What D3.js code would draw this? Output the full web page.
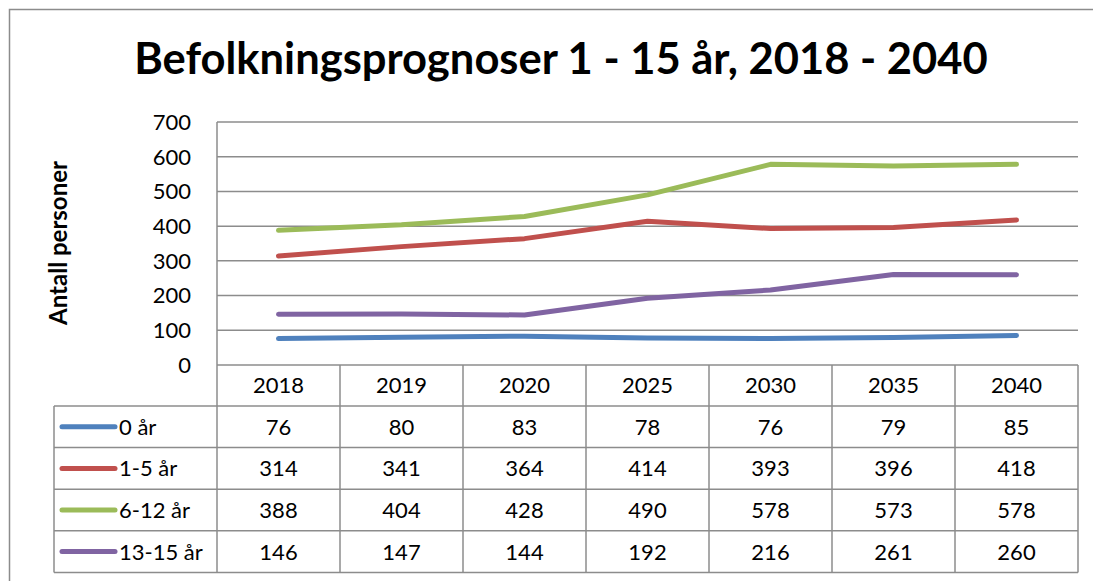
<!DOCTYPE html>
<html lang="no">
<head>
    <meta charset="UTF-8">
    <title>Befolkningsprognoser</title>
    <style>
        body { margin: 0; background: #fff; }
        svg { display: block; font-family: Lato, "Open Sans", sans-serif; }
    </style>
</head>
<body>
<script src="https://d3js.org/d3.v7.min.js"></script>
<div id="chart"></div>
<script>
  // data
  var years = ["2018", "2019", "2020", "2025", "2030", "2035", "2040"]
  var seriesNames = ["0 år", "1-5 år", "6-12 år", "13-15 år"]
  var age0 = [76, 80, 83, 78, 76, 79, 85]
  var age1to5 = [314, 341, 364, 414, 393, 396, 418]
  var age6to12 = [388, 404, 428, 490, 578, 573, 578]
  var age13to15 = [146, 147, 144, 192, 216, 261, 260]
  var yTicks = [0, 100, 200, 300, 400, 500, 600, 700]
  var colors = ["#4f81bd", "#c0504d", "#9bbb59", "#8064a2"]

  var series = [age0, age1to5, age6to12, age13to15]

  var width = 1093, height = 581
  // plot box (window.top is read-only, so no plain "top" here)
  var plotLeft = 217, plotRight = 1078, plotTop = 122, plotBottom = 365
  var headerH = 41, rowH = 41.6, legendLeft = 54
  var gridColor = "#8c8c8c"

  var svg = d3.select("#chart")
    .append("svg")
    .attr("width", width)
    .attr("height", height)

  // outer chart frame (right and bottom edges fall outside the picture)
  svg.append("rect")
    .attr("x", 9.5).attr("y", 9.5)
    .attr("width", 1100).attr("height", 600)
    .attr("fill", "none")
    .attr("stroke", gridColor)
    .attr("stroke-width", 1.5)

  var x = d3.scaleBand().domain(years).range([plotLeft, plotRight])
  var y = d3.scaleLinear().domain([0, 700]).range([plotBottom, plotTop])

  // title
  svg.append("text")
    .attr("x", 561)
    .attr("y", 74)
    .attr("text-anchor", "middle")
    .style("font-size", "43.5px")
    .style("font-weight", "bold")
    .text("Befolkningsprognoser 1 - 15 år, 2018 - 2040")

  // y axis title
  svg.append("text")
    .attr("transform", "translate(67,243) rotate(-90)")
    .attr("text-anchor", "middle")
    .style("font-size", "24px")
    .style("font-weight", "bold")
    .text("Antall personer")

  // gridlines
  svg.append("g").selectAll("line")
    .data(yTicks)
    .join("line")
    .attr("x1", plotLeft).attr("x2", plotRight)
    .attr("y1", function(d){ return y(d) })
    .attr("y2", function(d){ return y(d) })
    .attr("stroke", gridColor)
    .attr("stroke-width", 1.5)

  // y tick labels
  svg.append("g").selectAll("text")
    .data(yTicks)
    .join("text")
    .attr("x", 191)
    .attr("y", function(d){ return y(d) })
    .attr("dy", "0.36em")
    .attr("text-anchor", "end")
    .style("font-size", "22px")
    .text(function(d){ return d })

  // data table: row positions
  var tableTop = plotBottom + headerH
  var tableBottom = tableTop + rowH * series.length
  var rowY = function(i){ return tableTop + rowH * i }

  var grid = svg.append("g")
    .attr("stroke", gridColor)
    .attr("stroke-width", 1.5)

  // plot area left edge running down through the header row
  grid.append("line")
    .attr("x1", plotLeft).attr("x2", plotLeft)
    .attr("y1", plotTop).attr("y2", tableBottom)

  // column dividers of the table
  grid.selectAll(".col")
    .data(years)
    .join("line")
    .attr("class", "col")
    .attr("x1", function(d){ return x(d) + x.bandwidth() })
    .attr("x2", function(d){ return x(d) + x.bandwidth() })
    .attr("y1", plotBottom).attr("y2", tableBottom)

  grid.append("line")
    .attr("x1", legendLeft).attr("x2", legendLeft)
    .attr("y1", tableTop).attr("y2", tableBottom)

  grid.selectAll(".row")
    .data(d3.range(series.length + 1))
    .join("line")
    .attr("class", "row")
    .attr("x1", legendLeft).attr("x2", plotRight)
    .attr("y1", function(i){ return rowY(i) })
    .attr("y2", function(i){ return rowY(i) })

  // header years
  svg.append("g").selectAll("text")
    .data(years)
    .join("text")
    .attr("x", function(d){ return x(d) + x.bandwidth() / 2 })
    .attr("y", plotBottom + headerH / 2)
    .attr("dy", "0.36em")
    .attr("text-anchor", "middle")
    .style("font-size", "22px")
    .text(function(d){ return d })

  // table rows: legend key, name, values
  series.forEach(function(values, i){
    var cy = rowY(i) + rowH / 2
    var row = svg.append("g")

    row.append("line")
      .attr("x1", 62).attr("x2", 115)
      .attr("y1", cy).attr("y2", cy)
      .attr("stroke", colors[i])
      .attr("stroke-width", 5)
      .attr("stroke-linecap", "round")

    row.append("text")
      .attr("x", 119)
      .attr("y", cy)
      .attr("dy", "0.36em")
      .style("font-size", "22px")
      .text(seriesNames[i])

    row.selectAll(".val")
      .data(values)
      .join("text")
      .attr("class", "val")
      .attr("x", function(d, j){ return x(years[j]) + x.bandwidth() / 2 })
      .attr("y", cy)
      .attr("dy", "0.36em")
      .attr("text-anchor", "middle")
      .style("font-size", "22px")
      .text(function(d){ return d })
  })

  // the lines
  var line = d3.line()
    .x(function(d, j){ return x(years[j]) + x.bandwidth() / 2 })
    .y(function(d){ return y(d) })

  svg.append("g").selectAll("path")
    .data(series)
    .join("path")
    .attr("d", line)
    .attr("fill", "none")
    .attr("stroke", function(d, i){ return colors[i] })
    .attr("stroke-width", 5)
    .attr("stroke-linejoin", "round")
    .attr("stroke-linecap", "round")
</script>
</body>
</html>
